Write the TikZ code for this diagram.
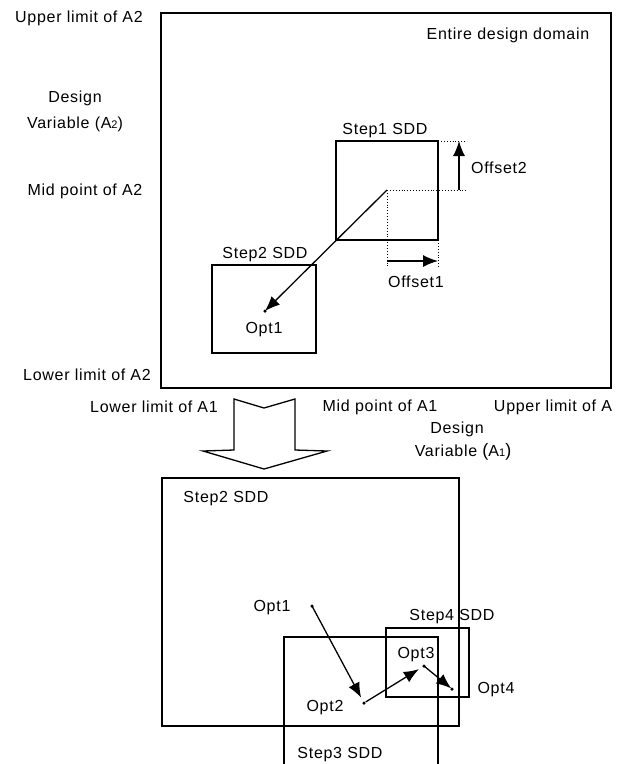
\documentclass[tikz,border=0pt]{standalone}
\usepackage{fontspec}
\setmainfont{Liberation Sans}[LetterSpace=4.5]
\usetikzlibrary{arrows.meta}
\begin{document}
\begin{tikzpicture}[x=1pt,y=-1pt,
  lbl/.style={font=\fontsize{16}{19}\selectfont, inner sep=0pt, text height=11.4pt, text depth=0pt},
  box/.style={draw, line width=1.3pt},
  optdot/.style={circle, fill, inner sep=0pt, minimum size=3.5pt},
  arr/.style={-{Latex[length=15pt,width=12pt]}, line width=1.3pt},
  dots/.style={dotted, line width=0.9pt}]
\useasboundingbox (0,0) rectangle (628,764);
\fill[white] (0,0) rectangle (628,764);

% ---------- upper picture ----------
\draw[box] (161,13) rectangle (611,388);
\draw[box] (336,141) rectangle (438,240);
\draw[box] (212,265) rectangle (316,353);

\node[lbl] (ul2) at (79,17) {Upper limit of A2};
\node[lbl] (dv2a) at (75,97) {Design};
\node[lbl] (dv2b) at (75,123) {Variable (A{\fontsize{11}{11}\selectfont 2})};
\node[lbl] (mp2) at (85,190) {Mid point of A2};
\node[lbl] (ll2) at (87,375) {Lower limit of A2};
\node[lbl] (edd) at (508,34) {Entire design domain};
\node[lbl] (s1l) at (385,129) {Step1 SDD};
\node[lbl, anchor=west] (off2) at (471,168) {Offset2};
\node[lbl] (off1) at (416,282) {Offset1};
\node[lbl] (s2l) at (265,253) {Step2 SDD};
\node[lbl] (o1l) at (264,328) {Opt1};

\coordinate (c1) at (387,190);
\coordinate (c1x) at (467,190);
\coordinate (c1y) at (387,267);
\coordinate (s1tr) at (438,141);
\coordinate (s1trx) at (467,141);
\coordinate (s1br) at (438,240);
\coordinate (s1bry) at (438,267);
\coordinate (o2a) at (459,190);
\coordinate (o2b) at (459,141);
\coordinate (o1a) at (387,261);
\coordinate (o1b) at (438,261);
\node[optdot] (opt1top) at (265,311) {};

\draw[dots] (s1tr) -- (s1trx);
\draw[dots] (c1) -- (c1x);
\draw[dots] (c1) -- (c1y);
\draw[dots] (s1br) -- (s1bry);
\draw[arr] (o2a) -- (o2b);
\draw[arr] (o1a) -- (o1b);
\draw[arr] (c1) -- (opt1top.center);

% ---------- axis labels below ----------
\node[lbl] (ll1) at (154,407) {Lower limit of A1};
\node[lbl] (mp1) at (380,406) {Mid point of A1};
\node[lbl] (ul1) at (553,406) {Upper limit of A};
\node[lbl] (dv1a) at (457,428) {Design};
\node[lbl] (dv1b) at (463,451) {Variable {\fontsize{18}{19}\selectfont(}A{\fontsize{11}{11}\selectfont 1}{\fontsize{18}{19}\selectfont)}};

% ---------- hollow arrow ----------
\draw[line width=1.3pt, line join=miter]
  (234,399) -- (264,408) -- (295,399) -- (295,450) -- (327,451)
  -- (264,469) -- (203,451) -- (234,450) -- cycle;

% ---------- lower picture ----------
\draw[box] (162,478) rectangle (459,726);
\draw[box] (284,764) -- (284,637) -- (438,637) -- (438,764);
\draw[line width=1.1pt] (386,628) rectangle (469,697);

\node[lbl] (s2b) at (226,497) {Step2 SDD};
\node[lbl] (o1bl) at (272,606) {Opt1};
\node[lbl] (s4l) at (452,615) {Step4 SDD};
\node[lbl] (o3l) at (416,653) {Opt3};
\node[lbl] (o2l) at (325,706) {Opt2};
\node[lbl] (o4l) at (496,688) {Opt4};
\node[lbl] (s3l) at (340,753) {Step3 SDD};

\node[optdot] (p1) at (312,606) {};
\node[optdot] (p2) at (364,703) {};
\node[optdot] (p3) at (424,666) {};
\node[optdot] (p4) at (452,689) {};

\draw[arr, shorten >=6pt] (p1.center) -- (p2.center);
\draw[arr, shorten >=6pt, shorten <=2pt] (p2.center) -- (p3.center);
\draw[arr, shorten >=1pt] (p3.center) -- (p4.center);
\end{tikzpicture}
\end{document}
